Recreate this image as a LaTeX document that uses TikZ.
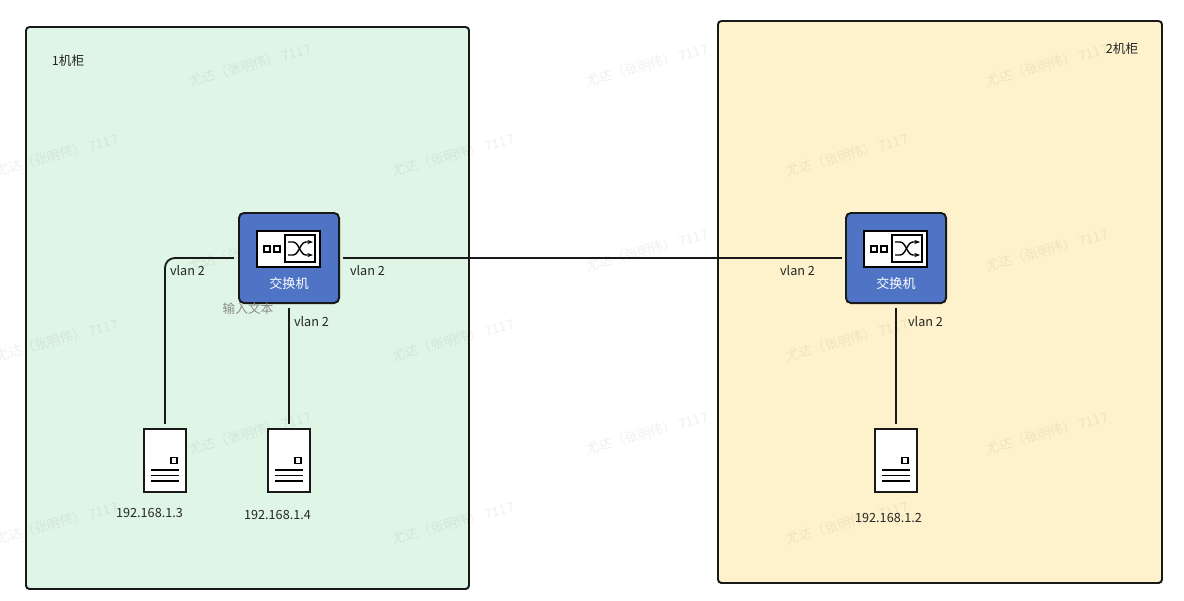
\documentclass[tikz,border=0pt]{standalone}
\usepackage{fontspec}
\setmainfont{Noto Sans CJK SC}
\usetikzlibrary{arrows.meta}
\definecolor{rackgreen}{HTML}{DFF5E5}
\definecolor{rackyellow}{HTML}{FEF2CC}
\definecolor{switchblue}{HTML}{4F74C6}
\tikzset{
  rack/.style={draw=black!90,line width=1.4pt,rounded corners=2.5pt},
  switchbox/.style={draw=black!90,fill=switchblue,line width=1.4pt,rounded corners=3.5pt,
    minimum width=2.5cm,minimum height=2.25cm},
  serverbox/.style={draw=black!90,fill=white,line width=1.3pt,
    minimum width=1.05cm,minimum height=1.575cm},
  link/.style={line width=1.3pt,black!90},
  label/.style={font=\fontsize{9}{11}\selectfont,text=black!85,inner sep=0pt},
  mark text/.style={font=\fontsize{9.5}{11}\selectfont,text=black,opacity=0.06,rotate=15,inner sep=0pt}
}
\newcommand{\switchicon}[1]{
  \begin{scope}[shift={(#1.center)}]
    \draw[fill=white,line width=1.2pt] (-32,-27) rectangle (31,9);
    \draw[line width=1.1pt] (-4,-23) rectangle (26,4);
    \draw[line width=1pt] (-25,-12) rectangle (-19,-6) (-15,-12) rectangle (-9,-6);
    \draw[line width=1pt,-{Stealth[length=4pt]}] (-1,-16) -- (4,-16) .. controls (10,-16) and (11,-3) .. (17,-3) -- (24,-3);
    \draw[line width=1pt,-{Stealth[length=4pt]}] (-1,-3) -- (4,-3) .. controls (10,-3) and (11,-16) .. (17,-16) -- (24,-16);
    \node[font=\fontsize{9.3}{11}\selectfont,text=white,inner sep=0pt] at (0,25) {交换机};
  \end{scope}
}
\newcommand{\servericon}[1]{
  \begin{scope}[shift={(#1.center)}]
    \draw[line width=1pt] (6,-3) rectangle (12,3);
    \foreach \y in {9.5,15,20.5} {
      \draw[line width=1pt] (-14,\y) -- (14,\y);
    }
  \end{scope}
}
\begin{document}
\begin{tikzpicture}
  [x=0.025cm,y=-0.025cm]
  \useasboundingbox (0,0) rectangle (1184,600);
  % racks
  \draw[rack,fill=rackgreen] (26,27) rectangle (469,589);
  \draw[rack,fill=rackyellow] (718,21) rectangle (1162,583);

  % watermark
  \foreach \x/\y in {250/65,647/65,1047/65,57/155,453/155,847/155,
                     250/250,647/250,1047/250,57/340,453/340,847/340,
                     250/433,647/433,1047/433,57/523,453/523,847/523} {
    \node[mark text] at (\x,\y) {尤达（张明伟） 7117};
  }

  \node[switchbox] (sw1) at (289,258) {};
  \node[switchbox] (sw2) at (896,258) {};
  \node[serverbox] (srv3) at (165,460.5) {};
  \node[serverbox] (srv4) at (289,460.5) {};
  \node[serverbox] (srv2) at (896,460.5) {};

  \switchicon{sw1}
  \switchicon{sw2}
  \servericon{srv3}
  \servericon{srv4}
  \servericon{srv2}

  \draw[link,rounded corners=7pt,shorten <=3pt,shorten >=3pt] (sw1.west) -| (srv3.north);
  \draw[link,shorten <=3pt,shorten >=3pt] (sw1.south) -- (srv4.north);
  \draw[link,shorten <=2pt,shorten >=2pt] (sw1.east) -- (sw2.west);
  \draw[link,shorten <=3pt,shorten >=3pt] (sw2.south) -- (srv2.north);

  \node[label] (rack1) at (68,61) {1机柜};
  \node[label] (rack2) at (1122,49) {2机柜};
  \node[label] (v1) at (187.5,271) {vlan 2};
  \node[label] (v2) at (367.5,271) {vlan 2};
  \node[label] (v3) at (311.5,322) {vlan 2};
  \node[label] (v4) at (797.5,271) {vlan 2};
  \node[label] (v5) at (925.5,322) {vlan 2};
  \node[label] (ip3) at (149.5,513) {192.168.1.3};
  \node[label] (ip4) at (277.5,515) {192.168.1.4};
  \node[label] (ip2) at (888.5,518) {192.168.1.2};
  \node[label,text=black!45] (hint) at (248,309) {输入文本};
\end{tikzpicture}
\end{document}
